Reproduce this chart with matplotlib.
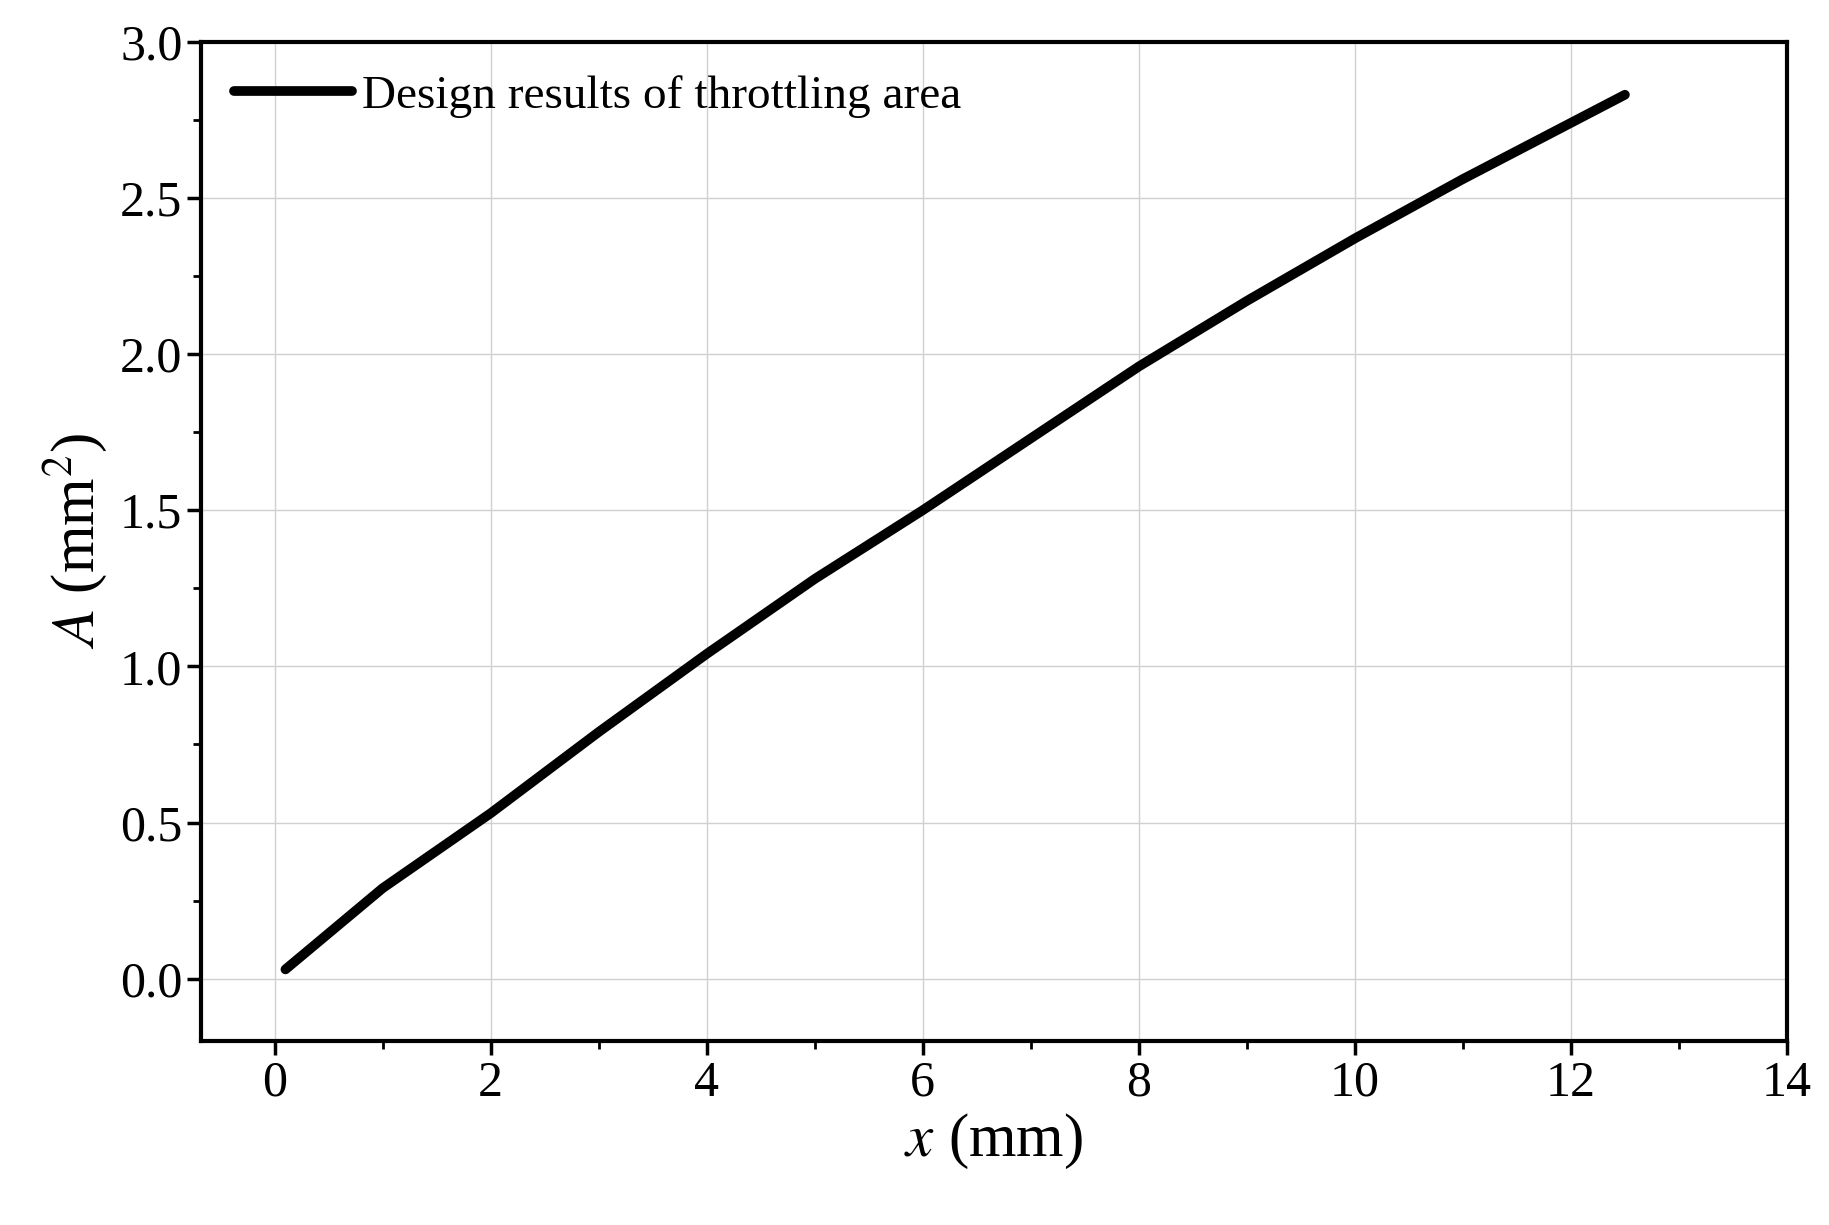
import matplotlib
matplotlib.use("Agg")
import matplotlib.pyplot as plt
from matplotlib.ticker import MultipleLocator

x_mm = [0.1, 1, 2, 3, 4, 5, 6, 7, 8, 9, 10, 11, 12, 12.5]
area = [0.03, 0.29, 0.53, 0.79, 1.04, 1.28, 1.50, 1.73, 1.96, 2.17, 2.37, 2.56, 2.74, 2.83]

plt.rcParams['font.family'] = ['Liberation Serif', 'DejaVu Serif']
plt.rcParams['mathtext.fontset'] = 'stix'
fig = plt.figure(figsize=(18.29, 12.25), dpi=100)
ax = fig.add_axes([0.110, 0.150, 0.867, 0.816])
ax.plot(x_mm, area, color='black', lw=7, solid_capstyle='round',
        label='Design results of throttling area')
ax.set_xlim(-0.68, 14)
ax.set_ylim(-0.2, 3.0)
ax.xaxis.set_major_locator(MultipleLocator(2))
ax.xaxis.set_minor_locator(MultipleLocator(1))
ax.yaxis.set_major_locator(MultipleLocator(0.5))
ax.yaxis.set_minor_locator(MultipleLocator(0.25))
ax.set_yticks([0, 0.5, 1, 1.5, 2, 2.5, 3])
ax.set_yticklabels(['0.0', '0.5', '1.0', '1.5', '2.0', '2.5', '3.0'])
ax.grid(True, which='major', color='#d0d0d0', lw=1)
ax.tick_params(which='major', direction='out', length=10, width=2.5, labelsize=36)
ax.tick_params(which='minor', direction='out', length=6, width=2)
for s in ax.spines.values():
    s.set_linewidth(3)
ax.set_xlabel(r'$x$ (mm)', fontsize=44, labelpad=4)
ax.set_ylabel(r'$A$ (mm$^2$)', fontsize=44, labelpad=8)
ax.legend(loc='upper left', frameon=False, fontsize=34, handlelength=2.5,
          handletextpad=0.2, borderaxespad=0.3)
fig.savefig('out.png', dpi=100)
